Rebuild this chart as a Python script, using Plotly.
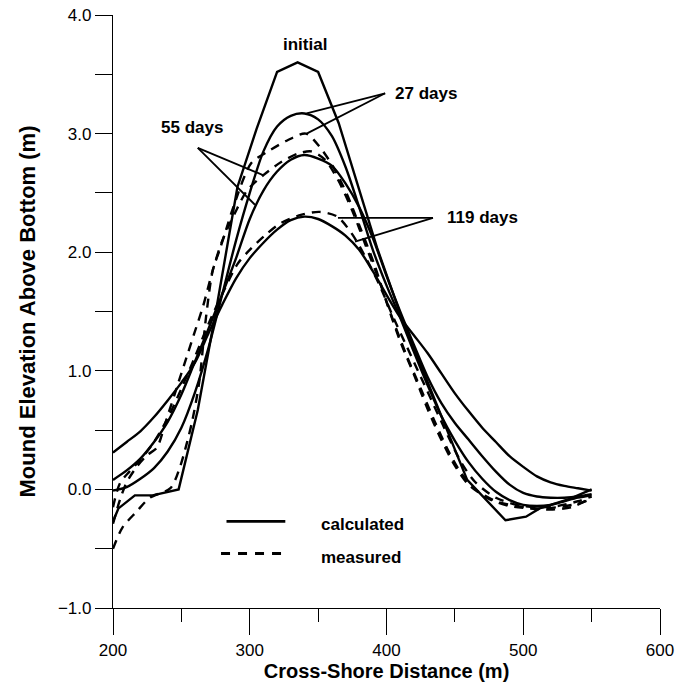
import plotly.graph_objects as go

# ---------------- data ----------------
x_calc = [200, 210, 220, 230, 240, 250, 260, 270, 280, 290, 300, 310, 320, 330, 340,
          350, 360, 370, 380, 390, 400, 410, 420, 430, 440, 450, 460, 470, 480, 490,
          500, 510, 520, 530, 540, 550]
calc_27 = [-0.01, 0.02, 0.09, 0.18, 0.32, 0.52, 0.82, 1.20, 1.65, 2.10, 2.50, 2.85, 3.06, 3.15, 3.17,
           3.12, 2.98, 2.72, 2.38, 2.02, 1.72, 1.45, 1.16, 0.88, 0.62, 0.41, 0.23, 0.09, -0.02, -0.09,
           -0.13, -0.14, -0.13, -0.10, -0.07, -0.05]
calc_55 = [0.08, 0.16, 0.26, 0.40, 0.57, 0.80, 1.08, 1.36, 1.65, 1.95, 2.28, 2.52, 2.68, 2.78, 2.82,
           2.79, 2.73, 2.58, 2.38, 2.12, 1.80, 1.50, 1.22, 0.95, 0.73, 0.56, 0.42, 0.28, 0.15, 0.04,
           -0.03, -0.06, -0.07, -0.07, -0.06, -0.04]
calc_119 = [0.31, 0.40, 0.49, 0.61, 0.75, 0.90, 1.07, 1.32, 1.56, 1.78, 1.95, 2.08, 2.19, 2.27, 2.30,
            2.28, 2.22, 2.14, 2.02, 1.84, 1.64, 1.45, 1.30, 1.15, 0.98, 0.81, 0.66, 0.52, 0.40, 0.28,
            0.19, 0.11, 0.06, 0.03, 0.01, -0.01]

x_init = [200, 204, 216, 229, 248, 262, 276, 291, 305, 320, 335, 350, 365, 393, 411, 459, 487, 502, 512, 534, 550]
y_init = [-0.27, -0.16, -0.05, -0.05, 0.0, 0.67, 1.55, 2.55, 3.04, 3.52, 3.60, 3.52, 3.09, 2.04, 1.45, 0.08, -0.26, -0.23, -0.16, -0.08, 0.0]

x_m27 = [200, 207, 217, 227, 242, 249, 254, 258, 263, 268, 273, 278, 283, 288, 301, 312, 327, 341, 351,
         361, 371, 381, 391, 400, 410, 420, 430, 440, 450, 460, 475, 490, 505, 520, 535, 550]
y_m27 = [-0.50, -0.32, -0.19, -0.07, 0.01, 0.19, 0.39, 0.58, 0.90, 1.45, 1.85, 2.02, 2.20, 2.38, 2.75, 2.84, 2.94, 3.00, 2.89,
         2.72, 2.49, 2.20, 1.90, 1.58, 1.25, 0.97, 0.68, 0.42, 0.20, 0.04, -0.08, -0.14, -0.16, -0.17, -0.15, -0.07]

x_m55 = [200, 205, 210, 218, 225, 232, 238, 245, 252, 259, 266, 273, 280, 290, 298, 310, 323, 335, 345,
         355, 365, 375, 385, 395, 405, 415, 425, 435, 445, 455, 465, 480, 495, 510, 525, 540, 550]
y_m55 = [-0.29, -0.09, 0.06, 0.20, 0.29, 0.35, 0.55, 0.80, 1.05, 1.30, 1.55, 1.85, 2.10, 2.35, 2.52, 2.65, 2.76, 2.83, 2.85,
         2.78, 2.60, 2.35, 2.05, 1.75, 1.42, 1.12, 0.85, 0.58, 0.33, 0.13, 0.00, -0.10, -0.14, -0.16, -0.15, -0.12, -0.08]

x_m119 = [200, 205, 212, 220, 230, 240, 250, 260, 270, 280, 291, 300, 311, 322, 336, 351, 364, 375,
          385, 395, 405, 415, 425, 435, 445, 455, 465, 480, 495, 510, 525, 540, 550]
y_m119 = [-0.15, 0.05, 0.15, 0.25, 0.40, 0.60, 0.85, 1.12, 1.40, 1.65, 1.90, 2.02, 2.14, 2.24, 2.31, 2.34, 2.30, 2.15,
          1.95, 1.72, 1.45, 1.20, 0.95, 0.70, 0.45, 0.22, 0.06, -0.07, -0.13, -0.15, -0.14, -0.10, -0.06]

x_ticks = [200, 300, 400, 500, 600]
y_ticks = [-1.0, 0.0, 1.0, 2.0, 3.0, 4.0]

FONT = "Liberation Sans, Arial, sans-serif"
solid = dict(color="black", width=2.4)
dashed = dict(color="black", width=2.4, dash="9px,7px")

fig = go.Figure()
fig.add_trace(go.Scatter(x=x_init, y=y_init, mode="lines", line=solid, showlegend=False))
for yy in (calc_27, calc_55, calc_119):
    fig.add_trace(go.Scatter(x=x_calc, y=yy, mode="lines", line=dict(solid, shape="spline", smoothing=0.8),
                             showlegend=False))
for xx, yy in ((x_m27, y_m27), (x_m55, y_m55), (x_m119, y_m119)):
    fig.add_trace(go.Scatter(x=xx, y=yy, mode="lines", line=dict(dashed, shape="spline", smoothing=0.8),
                             showlegend=False))

# legend samples
fig.add_trace(go.Scatter(x=[283, 326], y=[-0.27, -0.27], mode="lines", line=dict(color="black", width=2.8),
                         showlegend=False))
fig.add_trace(go.Scatter(x=[279, 327], y=[-0.54, -0.54], mode="lines", line=dict(color="black", width=3, dash="9px,8px"),
                         showlegend=False))

leaders = [
    ((399, 3.34), (341.6, 3.17)), ((399, 3.34), (341.6, 3.00)),
    ((262, 2.88), (309.7, 2.65)), ((262, 2.88), (303.8, 2.40)),
    ((434, 2.29), (364.5, 2.29)), ((434, 2.29), (377, 2.09)),
]
for (x0, y0), (x1, y1) in leaders:
    fig.add_shape(type="line", x0=x0, y0=y0, x1=x1, y1=y1, line=dict(color="black", width=1.8))

labels = [
    ("initial", 340.5, 3.75, "center"),
    ("27 days", 405, 3.34, "left"),
    ("55 days", 257.5, 3.05, "center"),
    ("119 days", 443, 2.29, "left"),
    ("calculated", 351, -0.30, "left"),
    ("measured", 351, -0.57, "left"),
]
for t, x, y, xa in labels:
    fig.add_annotation(x=x, y=y, text="<b>" + t + "</b>", showarrow=False, xanchor=xa, yanchor="middle",
                       font=dict(family=FONT, size=17, color="black"))

fig.update_xaxes(range=[200, 600], tickvals=x_ticks, ticks="outside", ticklen=26, tickwidth=1,
                 tickcolor="black", showline=True, linecolor="black", linewidth=1.2, showgrid=False,
                 zeroline=False, automargin=False, tickfont=dict(family=FONT, size=17, color="black"),
                 ticklabeloverflow="allow",
                 minor=dict(dtick=50, ticks="outside", ticklen=13, tickcolor="black", tickwidth=1),
                 title=dict(text="<b>Cross-Shore Distance (m)</b>", font=dict(family=FONT, size=20, color="black"),
                            standoff=4))
fig.update_yaxes(range=[-1, 4], tickvals=y_ticks, tickformat=".1f", ticks="outside", ticklen=17, tickwidth=1,
                 tickcolor="black", showline=True, linecolor="black", linewidth=1.2, showgrid=False,
                 zeroline=False, automargin=False, tickfont=dict(family=FONT, size=17, color="black"),
                 ticklabeloverflow="allow",
                 minor=dict(dtick=0.5, ticks="outside", ticklen=17, tickcolor="black", tickwidth=1),
                 title=dict(text="<b>Mound Elevation Above Bottom (m)</b>", font=dict(family=FONT, size=22, color="black"),
                            standoff=16))
fig.update_layout(width=690, height=686, margin=dict(l=113, r=30, t=15, b=78),
                  plot_bgcolor="white", paper_bgcolor="white", showlegend=False)
# remove the browser's default 8px body margin so the figure fills the window exactly
fig.write_html("out.html", config={"displayModeBar": False},
               post_script="document.body.style.margin='0';document.body.style.overflow='hidden';")
